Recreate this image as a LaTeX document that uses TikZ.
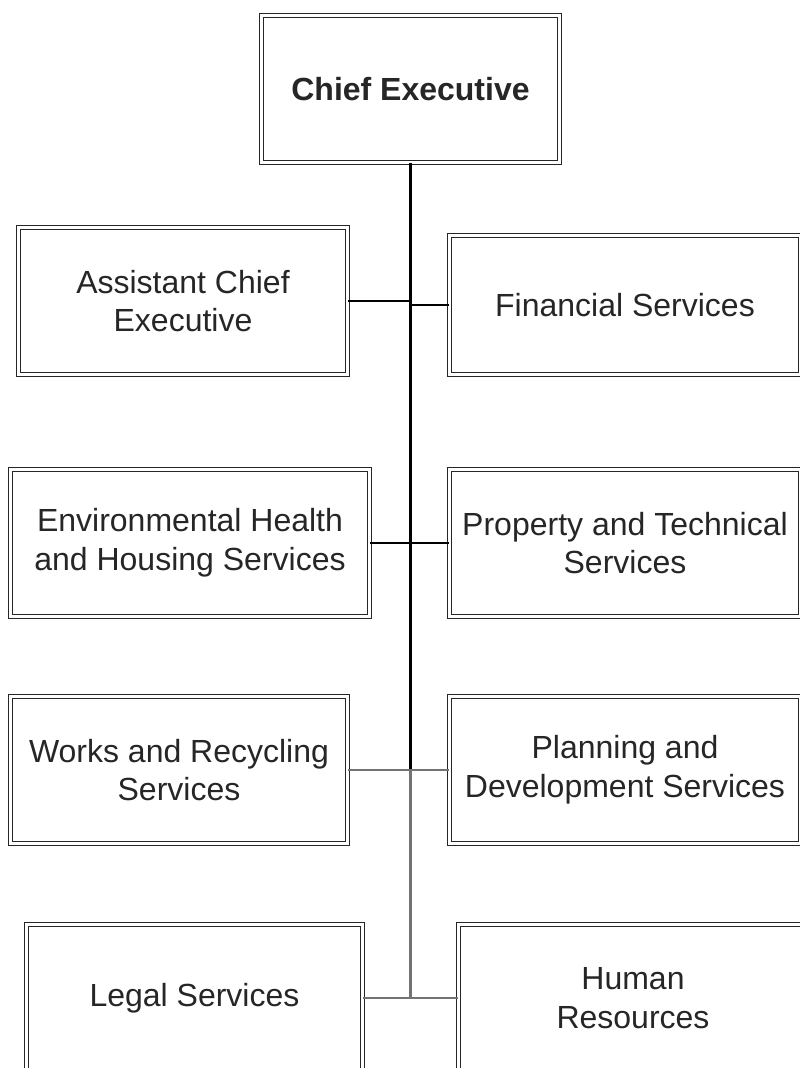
\documentclass[tikz,border=0pt]{standalone}
\usepackage{fontspec}
\setmainfont{Liberation Sans}
\usepackage{tikz}

\tikzset{
  boxw/.style={minimum width=#1*0.75pt},
  boxh/.style={minimum height=#1*0.75pt},
  post/.style={draw=black!85,double=white,double distance=2pt,line width=1.05pt,
    fill=white,inner sep=0pt,align=center,text=black!85,boxh=147,
    font=\fontsize{24}{29}\selectfont},
  link/.style={draw=black,line width=0.8pt},
  greylink/.style={draw=black!55,line width=1.6pt}
}

\begin{document}
\begin{tikzpicture}[line cap=butt,line join=miter,x=0.75pt,y=-0.75pt]
\useasboundingbox (0,0) rectangle (800,1068);
% the head of the organisation
\node[post,boxw=298,font=\fontsize{24}{29}\selectfont\bfseries] (ce) at (410.5,89) {Chief Executive};
% departments, left and right of the trunk
\node[post,boxw=329] (ace) at (183,301) {Assistant Chief\\Executive};
\node[post,boxw=351,boxh=139] (fin) at (625,305) {Financial Services};
\node[post,boxw=359] (env) at (190,543) {Environmental Health\\and Housing Services};
\node[post,boxw=351] (prop) at (625,543) {Property and Technical\\Services};
\node[post,boxw=337] (works) at (179,770) {Works and Recycling\\Services};
\node[post,boxw=351] (plan) at (625,770) {Planning and\\Development Services};
\node[post,boxw=336] (legal) at (194.5,998) {Legal Services};
\node[post,boxw=349] (hr) at (633,998) {Human\\Resources};
% trunk
\coordinate (t3) at (ce.south |- works.east);
\coordinate (t4) at (ce.south |- legal.east);
\draw[line width=2.4pt] (ce.south) -- (t3);
\draw[greylink] (t3) -- (t4);
% branches
\draw[link] (ace.east) -- (ace.east -| ce.south);
\draw[link] (fin.west -| ce.south) -- (fin.west);
\draw[link] (env.east) -- (prop.west);
\draw[greylink] (works.east) -- (plan.west);
\draw[greylink] (legal.east) -- (hr.west);
\end{tikzpicture}
\end{document}
